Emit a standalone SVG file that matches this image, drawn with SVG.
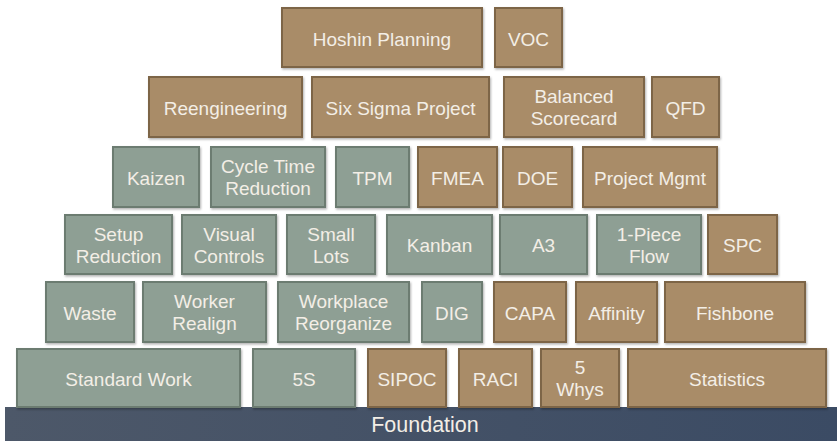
<svg xmlns="http://www.w3.org/2000/svg" width="837" height="441" viewBox="0 0 837 441">
  <defs>
    <linearGradient id="baseGrad" x1="0" y1="0" x2="1" y2="0">
      <stop offset="0" stop-color="#4d5869"/>
      <stop offset="1" stop-color="#3b4b64"/>
    </linearGradient>
    <filter id="shadow" x="-10%" y="-10%" width="120%" height="130%">
      <feDropShadow dx="1" dy="1.5" stdDeviation="1" flood-color="#000" flood-opacity="0.3"/>
    </filter>
  </defs>
  <style>
    .tan rect { fill: #a98c67; stroke: #7d6547; stroke-width: 2; filter: url(#shadow); }
    .grn rect { fill: #8e9f94; stroke: #6c7c71; stroke-width: 2; filter: url(#shadow); }
    text { font-family: "Liberation Sans", Arial, sans-serif; font-size: 19px; fill: #f3eee6; text-anchor: middle; }
    .base text { font-size: 21.5px; }
  </style>
  <rect width="837" height="441" fill="#ffffff"/>

  <!-- foundation bar -->
  <g id="foundation" class="base">
    <rect x="5" y="407" width="832" height="34" fill="url(#baseGrad)"/>
    <text x="425" y="432">Foundation</text>
  </g>

  <!-- row 1 -->
  <g id="hoshin" class="tan"><rect x="282" y="8" width="200" height="59"/><text x="382" y="46">Hoshin Planning</text></g>
  <g id="voc" class="tan"><rect x="495" y="8" width="67" height="59"/><text x="528.5" y="46">VOC</text></g>

  <!-- row 2 -->
  <g id="reengineering" class="tan"><rect x="149" y="77" width="153" height="60"/><text x="225.5" y="115">Reengineering</text></g>
  <g id="six-sigma" class="tan"><rect x="312" y="77" width="177" height="60"/><text x="400.5" y="115">Six Sigma Project</text></g>
  <g id="balanced-scorecard" class="tan"><rect x="504" y="77" width="140" height="60"/><text x="574" y="103">Balanced</text><text x="574" y="125">Scorecard</text></g>
  <g id="qfd" class="tan"><rect x="652" y="77" width="67" height="60"/><text x="685.5" y="115">QFD</text></g>

  <!-- row 3 -->
  <g id="kaizen" class="grn"><rect x="113" y="147" width="86" height="60"/><text x="156" y="185">Kaizen</text></g>
  <g id="cycle-time" class="grn"><rect x="211" y="147" width="114" height="60"/><text x="268" y="173">Cycle Time</text><text x="268" y="195">Reduction</text></g>
  <g id="tpm" class="grn"><rect x="336" y="147" width="73" height="60"/><text x="372.5" y="185">TPM</text></g>
  <g id="fmea" class="tan"><rect x="418" y="147" width="79" height="60"/><text x="457.5" y="185">FMEA</text></g>
  <g id="doe" class="tan"><rect x="503" y="147" width="69" height="60"/><text x="537.5" y="185">DOE</text></g>
  <g id="project-mgmt" class="tan"><rect x="583" y="147" width="134" height="60"/><text x="650" y="185">Project Mgmt</text></g>

  <!-- row 4 -->
  <g id="setup-reduction" class="grn"><rect x="65" y="215" width="107" height="59"/><text x="118.5" y="241">Setup</text><text x="118.5" y="263">Reduction</text></g>
  <g id="visual-controls" class="grn"><rect x="182" y="215" width="94" height="59"/><text x="229" y="241">Visual</text><text x="229" y="263">Controls</text></g>
  <g id="small-lots" class="grn"><rect x="287" y="215" width="88" height="59"/><text x="331" y="241">Small</text><text x="331" y="263">Lots</text></g>
  <g id="kanban" class="grn"><rect x="387" y="215" width="105" height="59"/><text x="439.5" y="252">Kanban</text></g>
  <g id="a3" class="grn"><rect x="500" y="215" width="87" height="59"/><text x="543.5" y="252">A3</text></g>
  <g id="one-piece-flow" class="grn"><rect x="597" y="215" width="104" height="59"/><text x="649" y="241">1-Piece</text><text x="649" y="263">Flow</text></g>
  <g id="spc" class="tan"><rect x="708" y="215" width="69" height="59"/><text x="742.5" y="252">SPC</text></g>

  <!-- row 5 -->
  <g id="waste" class="grn"><rect x="46" y="282" width="88" height="60"/><text x="90" y="320">Waste</text></g>
  <g id="worker-realign" class="grn"><rect x="143" y="282" width="123" height="60"/><text x="204.5" y="308">Worker</text><text x="204.5" y="330">Realign</text></g>
  <g id="workplace-reorganize" class="grn"><rect x="278" y="282" width="131" height="60"/><text x="343.5" y="308">Workplace</text><text x="343.5" y="330">Reorganize</text></g>
  <g id="dig" class="grn"><rect x="422" y="282" width="60" height="60"/><text x="452" y="320">DIG</text></g>
  <g id="capa" class="tan"><rect x="494" y="282" width="72" height="60"/><text x="530" y="320">CAPA</text></g>
  <g id="affinity" class="tan"><rect x="576" y="282" width="81" height="60"/><text x="616.5" y="320">Affinity</text></g>
  <g id="fishbone" class="tan"><rect x="665" y="282" width="140" height="60"/><text x="735" y="320">Fishbone</text></g>

  <!-- row 6 -->
  <g id="standard-work" class="grn"><rect x="17" y="349" width="223" height="58"/><text x="128.5" y="386">Standard Work</text></g>
  <g id="five-s" class="grn"><rect x="253" y="349" width="102" height="58"/><text x="304" y="386">5S</text></g>
  <g id="sipoc" class="tan"><rect x="368" y="349" width="78" height="58"/><text x="407" y="386">SIPOC</text></g>
  <g id="raci" class="tan"><rect x="459" y="349" width="73" height="58"/><text x="495.5" y="386">RACI</text></g>
  <g id="five-whys" class="tan"><rect x="541" y="349" width="78" height="58"/><text x="580" y="374">5</text><text x="580" y="396">Whys</text></g>
  <g id="statistics" class="tan"><rect x="628" y="349" width="198" height="58"/><text x="727" y="386">Statistics</text></g>
</svg>
